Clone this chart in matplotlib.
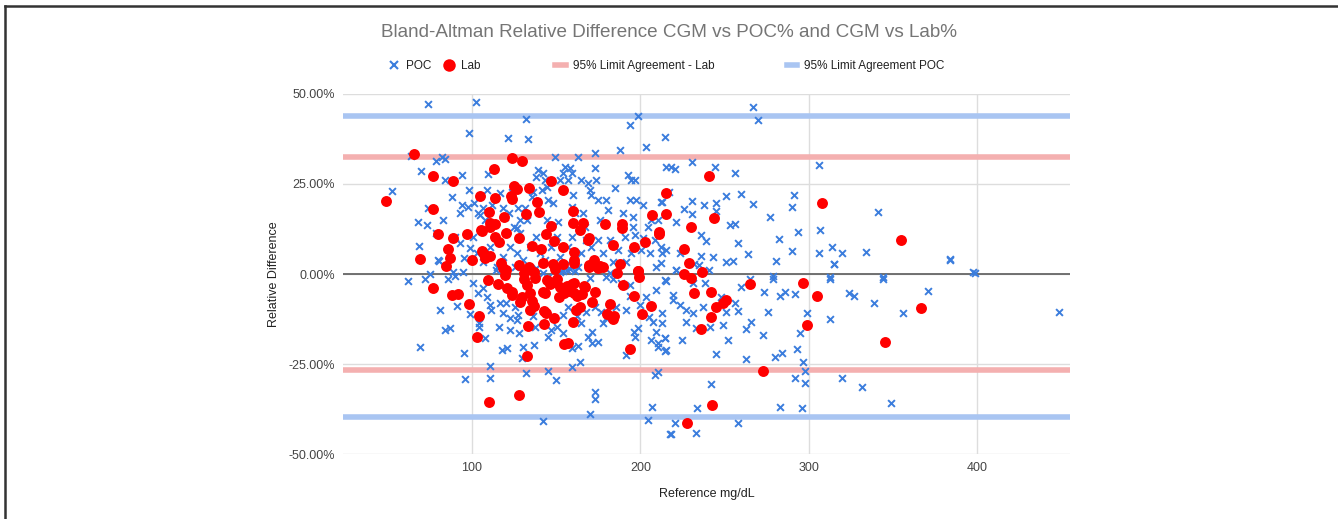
import matplotlib
matplotlib.use("Agg")
import matplotlib.pyplot as plt
from matplotlib.lines import Line2D

plt.rcParams["font.family"] = ["Liberation Sans", "DejaVu Sans"]

# ---- data (reference mg/dL, relative difference %) ----
poc_x = [
    74.1, 102.2, 98.2, 132, 133, 121.2, 63.8, 78.7, 82.2, 84, 69.8, 83.8, 93.9, 98, 52.4,
    68.6, 73.7, 68.2, 73.1, 78.5, 79.7, 80.5, 88, 83, 89.9, 92.9, 93.9, 92.9, 95.3, 88.9, 94.9, 97.8,
    101.2, 100.8, 98.8, 103.8, 104.7, 106.7, 107.7, 108.7, 109.7, 111.7, 116.6, 118.6, 119.6, 122.1,
    123.5, 124.9, 126.5, 127.5, 128.5, 128.5, 131.4, 132.4, 135.4, 136.4, 138.3, 139.3, 141.3, 142.3,
    143.3, 144.3, 144.3, 145.2, 148.2, 149.2, 151.2, 152.2, 154.1, 155.1, 157.1, 158.1, 159.1, 159.1,
    160.1, 161.1, 163, 165, 166, 167, 169, 169.9, 170.9, 172.9, 172.9, 173.9, 174.9, 175.9, 179.8,
    180.8, 184.8, 187.7, 189.7, 192.7, 193.7, 194.6, 195.6, 196.6, 197.6, 201.6, 203.5, 204.5, 206.5,
    208.5, 210.5, 212.4, 215.4, 193.7, 198.6,
    102.8, 106.7, 110.7, 114.6, 118.6, 122.5, 126.5, 130.4, 134.4, 138.3, 140.3, 143.3, 147.2, 150.2,
    152.2, 155.1, 157.1, 159.1, 163, 165, 168, 170.9, 174.9, 177.9, 181.8, 183.8, 186.7, 190.7, 191.7,
    194.6, 200.6, 201.6, 205.5, 209.5, 212.4, 196.6, 195.6,
    266.7, 270, 214.8, 230.8, 218, 220.7, 244, 255.9, 305.9, 217, 213, 230.8, 225.8, 230.8, 237.7,
    244.6, 244.6, 251, 259.9, 266.7, 290.9, 289.9, 340.8, 220.9, 252.9, 255.9, 277.1, 293.8, 306.9,
    235.7, 238.7, 257.9, 282, 313.6, 319.7, 333.9, 305.9, 289.9, 263.8, 251, 254.9, 280.6, 314.8,
    383.8, 397.2, 398.8, 235.7, 243, 240.7, 213, 215, 223.7, 220.9, 234.7, 232.1,
    264.8, 278.6, 312.6, 344.2,
    448.5, 370.5, 355.7, 338.9, 323.7, 327, 312.6, 299, 294.6, 292.8, 296.8, 297.8, 297.8, 291.9,
    295.8, 283, 319.7, 331.6, 348.8, 283.9, 280, 262.4, 272.7, 275.6, 273.1, 283, 286, 291.9, 279,
    265.8, 262.8, 259.9, 257.9, 255.9, 252, 245, 241.7, 233.8, 257.9, 218, 232.8, 220.7, 249, 251,
    241.1, 237.1, 231.2, 227.3, 223.3, 219.3, 219.3, 215, 213, 213, 214.4, 214.4, 224.9, 227.3,
    232.8, 238.1, 248, 231.2, 221.3, 314.8, 312.8, 343.8, 384,
    61.9, 72.1, 75.1, 69, 81, 83.8, 87, 90.9, 95.5, 95.9, 98.8, 104.3, 104.3, 107.7, 110.7, 110.7,
    115.8, 117.6, 120.9, 120, 122.5, 122.5, 128, 130.1, 129.5, 132, 136.9, 141.9, 144.9, 149.8,
    153.8, 159.1, 164, 159.1, 163, 170, 173.3, 172.9, 171, 174.9, 171, 191.7, 196.2, 198.6, 196.8,
    206.5, 210.4, 210.4, 214.4, 215.4, 208.5, 210.4, 207.1, 204.7, 217.4,
    209.5, 207.5, 205.1, 212, 214.4, 209.5, 203.6, 193.7, 188.7, 183.8, 179.8, 172.9, 176.9, 185.8,
    191.7, 193.7, 199.6, 177.8, 179.8,
    100.8, 103.7, 106.7, 108.7, 110.7, 111.5, 116.6, 118.6, 125.5, 126.5, 127.4, 136.3, 137.3,
    147.2, 145.2, 150.2, 154.1, 157.1, 162.1, 165, 168, 168.9,
    154.1, 156.4, 152.4, 158.4, 161.3, 138.3, 142.3, 134.4, 125.5, 145, 170, 182, 114, 90, 86,
]
poc_y = [
    47.1, 47.9, 39.2, 43, 37.4, 37.9, 32.7, 31.4, 32.5, 32, 28.6, 26.1, 27.5, 23.3, 23.0,
    7.8, 18.4, 14.5, 13.6, 11.3, 3.9, 3.5, 21.5, 15, 10.4, 16.9, 19.2, 8.5, 4.4, 0.6, 0.6, 18.7,
    19.6, 10.4, 7.1, 16.9, 16.4, 18.2, 15, 23.3, 27.8, 19.2, 22.4, 18.2, 15.9, 16.9,
    22.9, 13.1, 12.7, 18.2, 11.3, 15, 18.2, 15, 21.5, 22.9, 27, 28.9, 23.3, 28,
    26.1, 24.3, 15, 20.6, 19.6, 32.6, 14.5, 26.1, 28, 29.8, 26.1, 29.4, 28, 18.7,
    21.9, 16.9, 32.6, 26.1, 16.9, 13.1, 25.2, 23.3, 21.9, 33.5, 29.4, 26.1, 20.6, 15, 20.6,
    17.8, 23.8, 34.4, 16.9, 27.5, 20.6, 26.1, 15.9, 26.1, 20.6, 19.2, 35.4, 13.1, 15,
    9.4, 15, 20.1, 29.8, 41.4, 43.9,
    5.7, 3.4, 7.6, 2, 4.8, 7.6, 5.7, 3.9, 7.6, 10.4, 5.7, 3.9, 7.6, 10.4,
    4.8, 2.5, 7.6, 10.4, 2, 5.7, 9.4, 7.6, 9.4, 5.7, 9.4, 3.4, 6.7, 10.4, 3.4,
    5.7, 6.7, 9.9, 5.7, 2, 7.6, 10.8, 13.1,
    46.3, 42.8, 38, 31.1, 29.6, 29.3, 29.8, 28, 30.2, 22.9, 20.1, 20.3, 18.1, 16.7, 19.2,
    19.8, 17.5, 21.8, 22.2, 19.4, 21.9, 18.5, 17.1, 14.4, 13.7, 13.9, 15.7, 11.8, 12.2,
    10.8, 9.1, 8.7, 9.8, 7.6, 5.7, 6.2, 5.7, 6.4, 5.6, 3.4, 3.5, 3.7, 2.8,
    4.3, 0.6, 0.2, 5, 4.8, 1.1, 5.7, 6.7, 5.7, 1.1, 2.5, 2.9,
    -1.3, -1.3, -1.3, -1.3,
    -10.6, -4.7, -10.7, -8.1, -5.4, -6.1, -12.6, -10.7, -16.3, -20.7, -24.4, -26.9, -30.4, -29,
    -37.3, -36.9, -28.8, -31.5, -35.9, -21.9, -23, -23.7, -16.9, -10.6, -4.9, -6.1, -5.1, -5.6, -0.5,
    -13.2, -15.4, -3.5, -10.2, -8, -18.3, -22.2, -30.6, -37.3, -41.5, -44.4, -44.3, -41.3, -14.2, -10.5,
    -14.6, -9.1, -10.9, -10, -8.6, -5.8, -7.2, -1.9, -10.9, -13.7, -17.9, -21.3, -18.3, -13.2,
    -15.1, -2.6, -6.3, -2.6, 1.1, 2.7, -0.7, -0.9, 3.9,
    -1.9, -1.5, -0.1, -20.4, -10, -15.6, -15.1, -8.9, -22, -29.2, -11.2, -13.7, -14.6, -17.7, -25.5, -28.8,
    -14.6, -21.1, -20.6, -8.1, -12.3, -15.6, -16.5, -20.2, -23.2, -27.4, -19.8, -40.8, -26.9, -29.4,
    -16.3, -25.7, -24.4, -20.6, -20, -38.9, -32.9, -34.8, -16, -18.8, -19.1, -22.5, -16, -15.1, -17.4,
    -18.3, -19.3, -20.4, -17.9, -21.1, -28.1, -27.1, -36.9, -40.6, -44.4,
    -16, -13.2, -12, 3.1, -1.7, -4.4, -6.3, -3.1, -2.4, -1.5, -0.7, -9.1, -10.5, -9.1,
    -10, -6.2, -8.6, -13.7, -12.3,
    -2.6, -5.4, -4, -6.3, -8.6, -10, -8.1, -10.9, -9.1, -12.8, -11.4, -11.8, -14.6,
    -15.6, -17.4, -14.6, -11.4, -9.1, -11.8, -13.7, -10.5, -17.4,
    0.8, 1.2, 0.5, 1.5, 0.9, 1.8, 0.4, 1.2, 1.9, -0.8, -1.2, 0.3, 1.0, -0.6, -1.5,
]

lab_x = [
    48.8, 65.8, 76.9, 88.7, 76.9, 80, 88.9, 86, 87, 69.2, 84.8, 97, 99.8,
    123.9, 130, 112.9, 104.9, 113.8, 122.9, 123.5, 125, 127, 134, 138.7, 139.9, 147, 153.9,
    109.9, 110.9, 111, 105.2, 106, 113.8, 113.6, 116, 119, 120, 128, 131.8, 135.7, 140.9, 144, 147,
    148.8, 154.1, 159.7, 160, 165.8, 164, 169.5, 169, 178.8, 188.9, 189, 184, 195.9, 202.7, 206.9,
    215.4, 215, 211, 211.2,
    160.6, 160.4, 154, 148, 169.4, 172.7, 176.3, 186.4, 188, 198.8,
    108, 106, 107, 111, 117, 120, 128, 134, 137, 131, 142, 118.6, 119.6, 149.5, 160.3, 169.2,
    171.2, 175.1, 177.8, 198.6, 199,
    240.7, 243.9, 229.8, 225.7, 228.8, 236.7, 307.6, 354.9,
    77.1, 88, 91.9, 98.2, 104, 103, 109.9, 127.9, 132.8, 133, 142.9, 142.9, 144, 148.8, 154.7, 157,
    159.9, 162, 164, 171.3, 172.9, 181.8, 180.2, 183.8, 184.5, 193.7, 196.2, 201, 206.1,
    120.6, 123.5, 123.5, 128.5, 129.9, 130.8, 131.7, 132.7, 134.7, 135.7, 136.7, 134.7, 137.6,
    142.1, 143.5, 144.5, 146.5, 148.5, 150.4, 151.4, 152.4, 154.4, 156.4, 157.4, 159.4, 160.3,
    160.7, 162.3, 165.3, 167.3, 166.3, 189.4, 109.7, 115.2,
    225.8, 229.8, 231.8, 241.7, 264.8, 296.8, 304.9, 244.6, 249, 251, 241.7, 235.7, 299, 366.8,
    345, 272.9, 242.7, 227.9,
]
lab_y = [
    20.3, 33.2, 27.2, 25.7, 18.1, 11.1, 10.1, 6.9, 4.5, 4.2, 2.3, 11.1, 3.9,
    32.1, 31.4, 29.1, 21.7, 21, 21.8, 20.9, 24.4, 23.6, 23.8, 20.1, 17.1, 25.8, 23.3,
    17.1, 14.2, 13.1, 12.2, 12, 13.9, 10.4, 9, 15.7, 11.5, 10, 16.6, 7.9, 6.9, 11.1, 13.4,
    9.3, 7.6, 17.5, 14.3, 14.3, 12.2, 9.9, 9.5, 13.8, 13.8, 12.9, 8.1, 7.6, 8.8, 16.3,
    16.7, 22.6, 11.8, 11.1,
    6.2, 4, 2.7, 2.7, 2.5, 4, 2.3, 0.4, 2.8, 0.9,
    4.5, 6.5, 5.5, 5, 3, 1, 2.5, 2, 0.5, 0.2, 3, 1.6, -0.3, 1.4, 3, 2,
    2.5, 1.6, 2, 0.8, -0.7,
    27.2, 15.5, 13, 6.9, 3, 0.6, 19.6, 9.4,
    -4, -5.8, -5.6, -8.3, -11.7, -17.6, -35.6, -33.7, -22.7, -14.4, -14, -10.2, -10.8, -12.1, -19.4, -19.3,
    -13.2, -10, -9.1, -7.7, -4.9, -8.3, -11.2, -12.5, -11.8, -20.7, -6.1, -11.1, -8.8,
    -4, -4.9, -5.8, -7.7, -6.3, -1.5, 0.8, -3.1, -5.2, -7.5, -8.9, -9.9, -1,
    -4.9, -5.4, -1.8, -2.7, -2.3, -1.4, -6.5, -3.7, -5.2, -3.3, -4.7, -2.8, -5.2,
    -2.4, -6.1, -5.6, -3.7, -3.3, -3, -1.6, -2.7,
    -0.1, -1, -5.2, -5.1, -2.8, -2.5, -6, -9.1, -8.1, -7.2, -12, -15.4, -14.2, -9.4,
    -19, -26.9, -36.3, -41.3,
]

lab_limits = [32.6, -26.8]
poc_limits = [43.9, -39.7]

title = "Bland-Altman Relative Difference CGM vs POC% and CGM vs Lab%"
y_ticks = [-50, -25, 0, 25, 50]
x_ticks = [100, 200, 300, 400]

POC_BLUE = "#3b7ddd"
LAB_RED = "#ff0000"
LIM_RED = "#f4b0b0"
LIM_BLUE = "#a9c5f2"

fig = plt.figure(figsize=(13.38, 5.19), dpi=100)
ax = fig.add_axes([0.2564, 0.1252, 0.5433, 0.6937])

ax.scatter(poc_x, poc_y, marker="x", s=24, color=POC_BLUE, linewidths=1.4, zorder=3)
ax.scatter(lab_x, lab_y, marker="o", s=62, color=LAB_RED, linewidths=0, zorder=4)
for v in lab_limits:
    ax.axhline(v, color=LIM_RED, lw=4, zorder=2)
for v in poc_limits:
    ax.axhline(v, color=LIM_BLUE, lw=4, zorder=2)
ax.axhline(0, color="#666666", lw=1.3, zorder=2.5)

ax.set_xlim(23.5, 455)
ax.set_ylim(-50, 50)
ax.set_yticks(y_ticks)
ax.set_yticklabels([f"{t:.2f}%" for t in y_ticks])
ax.set_xticks(x_ticks)
ax.grid(True, color="#dddddd", lw=1, zorder=0)
for s in ax.spines.values():
    s.set_visible(False)
ax.tick_params(length=0, labelsize=9, labelcolor="#444444", pad=6)
ax.set_xlabel("Reference mg/dL", fontsize=9, color="#222222", labelpad=10)
ax.set_ylabel("Relative Difference", fontsize=9, color="#222222", labelpad=6)

fig.text(0.5, 0.938, title, ha="center", va="center", fontsize=13.6, color="#757575")

# legends
h1 = [Line2D([], [], marker="x", ls="none", color=POC_BLUE, markersize=6, mew=1.5),
      Line2D([], [], marker="o", ls="none", color=LAB_RED, markersize=9, mew=0)]
leg1 = fig.legend(h1, ["POC", "Lab"], loc="center left", bbox_to_anchor=(0.282, 0.872), ncol=2,
                  frameon=False, fontsize=8.5, handlelength=1.0, handletextpad=0.5, columnspacing=1.0)
leg2 = fig.legend([Line2D([], [], color=LIM_RED, lw=4)], ["95% Limit Agreement - Lab"],
                  loc="center left", bbox_to_anchor=(0.407, 0.872), frameon=False, fontsize=8.5,
                  handlelength=0.9, handletextpad=0.6)
leg3 = fig.legend([Line2D([], [], color=LIM_BLUE, lw=4)], ["95% Limit Agreement POC"],
                  loc="center left", bbox_to_anchor=(0.580, 0.872), frameon=False, fontsize=8.5,
                  handlelength=0.9, handletextpad=0.6)
for lg in (leg1, leg2, leg3):
    for t in lg.get_texts():
        t.set_color("#222222")

# outer frame (top and left edges)
fig.add_artist(Line2D([0.0041, 1.0], [0.9894, 0.9894], transform=fig.transFigure, color="#333333", lw=1.8))
fig.add_artist(Line2D([0.0041, 0.0041], [0.0, 0.9894], transform=fig.transFigure, color="#333333", lw=1.8))

fig.savefig("out.png", dpi=100)
